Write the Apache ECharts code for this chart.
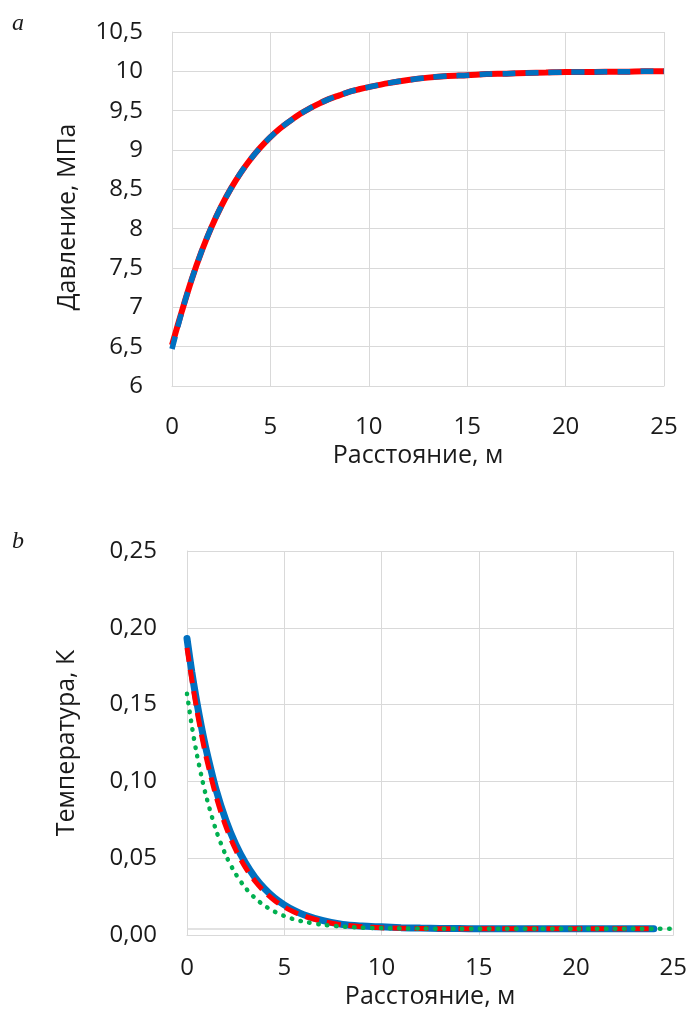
<!DOCTYPE html>
<html lang="ru">
  <head>
    <meta charset="UTF-8" />
    <title>Давление и температура</title>
    <script src="https://cdn.jsdelivr.net/npm/echarts@6/dist/echarts.min.js"></script>
    <style>
      body {
        margin: 0;
        background: #fff;
      }
      #main {
        width: 690px;
        height: 1010px;
      }
    </style>
  </head>
  <body>
    <div id="main"></div>
    <script>
      // панель a — давление
      let distP = [0, 0.5, 1, 1.5, 2, 2.5, 3, 3.5, 4, 4.5, 5, 5.5, 6, 6.5, 7, 7.5, 8, 8.5, 9, 9.5, 10, 11, 12, 13, 14, 15, 16, 17, 18, 19, 20, 21, 22, 23, 24, 25];
      let pressRed = [6.52, 6.95, 7.354, 7.709, 8.017, 8.283, 8.513, 8.713, 8.886, 9.035, 9.164, 9.276, 9.37, 9.457, 9.53, 9.593, 9.65, 9.695, 9.74, 9.772, 9.8, 9.85, 9.89, 9.92, 9.94, 9.95, 9.965, 9.97, 9.98, 9.985, 9.99, 9.99, 9.995, 9.995, 10, 10];
      let pressBlue = [6.47, 6.944, 7.354, 7.709, 8.017, 8.283, 8.513, 8.713, 8.886, 9.035, 9.164, 9.276, 9.37, 9.457, 9.53, 9.593, 9.65, 9.695, 9.74, 9.772, 9.8, 9.85, 9.89, 9.92, 9.94, 9.95, 9.965, 9.97, 9.98, 9.985, 9.99, 9.99, 9.995, 9.995, 10, 10];

      // панель b — температура
      let distT = [0, 0.25, 0.5, 0.75, 1, 1.5, 2, 2.5, 3, 3.5, 4, 4.5, 5, 5.5, 6, 7, 8, 9, 10, 11, 12, 13, 14, 15, 16, 17, 18, 19, 20, 21, 22, 23, 24];
      let distTGreen = [0, 0.25, 0.5, 0.75, 1, 1.5, 2, 2.5, 3, 3.5, 4, 4.5, 5, 5.5, 6, 7, 8, 9, 10, 11, 12, 13, 14, 15, 16, 17, 18, 19, 20, 21, 22, 23, 24, 25];
      let tempBlue = [0.193, 0.171, 0.152, 0.135, 0.12, 0.0944, 0.0746, 0.0591, 0.047, 0.0374, 0.03, 0.0241, 0.0196, 0.016, 0.0132, 0.0093, 0.0068, 0.0058, 0.0053, 0.0048, 0.0045, 0.0043, 0.0042, 0.0041, 0.004, 0.004, 0.004, 0.004, 0.004, 0.004, 0.004, 0.004, 0.004];
      let tempRed = [0.187, 0.166, 0.147, 0.13, 0.115, 0.09, 0.0705, 0.0555, 0.044, 0.035, 0.028, 0.0225, 0.0182, 0.015, 0.0124, 0.0088, 0.0066, 0.0054, 0.0047, 0.0044, 0.0042, 0.0041, 0.004, 0.004, 0.004, 0.004, 0.004, 0.004, 0.004, 0.004, 0.004, 0.004, 0.004];
      let tempGreen = [0.157, 0.136, 0.118, 0.103, 0.0896, 0.068, 0.0518, 0.0398, 0.0308, 0.024, 0.019, 0.0152, 0.0124, 0.0102, 0.0087, 0.0066, 0.0055, 0.0048, 0.0045, 0.0043, 0.0042, 0.0041, 0.004, 0.004, 0.004, 0.004, 0.004, 0.004, 0.004, 0.004, 0.004, 0.004, 0.004, 0.004];
      let floorX = [0, 25];
      let floorT = [0.0039, 0.0039];

      let xTicks = [0, 25, 5];
      let pTicks = [6, 10.5, 0.5];
      let tTicks = [0, 0.25, 0.05];

      function pairs(xs, ys) {
        return xs.map((x, i) => [x, ys[i]]);
      }

      const font = "'Open Sans', 'Noto Sans', sans-serif";
      const txt = "#1a1a1a";
      const gridColor = "#d9d9d9";

      function xAxisOf(idx, margin, gap) {
        return {
          type: "value",
          gridIndex: idx,
          min: xTicks[0],
          max: xTicks[1],
          interval: xTicks[2],
          name: "Расстояние, м",
          nameLocation: "middle",
          nameGap: gap,
          nameTextStyle: { color: txt, fontFamily: font, fontSize: 25 },
          axisLine: { show: true, lineStyle: { color: gridColor, width: 1 } },
          axisTick: { show: false },
          axisLabel: { color: txt, fontFamily: font, fontSize: 24, margin: margin, showMinLabel: true, showMaxLabel: true },
          splitLine: { show: true, lineStyle: { color: gridColor, width: 1 } },
        };
      }

      function curve(xi, data, style) {
        return {
          type: "line",
          xAxisIndex: xi,
          yAxisIndex: xi,
          data: data,
          smooth: 0.3,
          showSymbol: false,
          lineStyle: style,
        };
      }

      let myChart = echarts.init(document.getElementById("main"), null, { renderer: "canvas" });
      let option = {
        animation: false,
        backgroundColor: "#fff",
        graphic: [
          { type: "text", left: 12, top: 12, style: { text: "a", font: "italic 24px 'Liberation Serif', serif", fill: txt } },
          { type: "text", left: 12, top: 530, style: { text: "b", font: "italic 24px 'Liberation Serif', serif", fill: txt } },
        ],
        grid: [
          { left: 172, top: 32, width: 492, height: 354 },
          { left: 187, top: 551, width: 490, height: 384 },
        ],
        xAxis: [xAxisOf(0, 29, 57), xAxisOf(1, 21, 49)],
        yAxis: [
          {
            type: "value",
            gridIndex: 0,
            min: pTicks[0],
            max: pTicks[1],
            interval: pTicks[2],
            name: "Давление, МПа",
            nameLocation: "middle",
            nameGap: 92,
            nameTextStyle: { color: txt, fontFamily: font, fontSize: 25, padding: [0, 16, 0, 0] },
            axisLine: { show: true, lineStyle: { color: gridColor, width: 1 } },
            axisTick: { show: false },
            axisLabel: {
              color: txt,
              fontFamily: font,
              fontSize: 24,
              margin: 29,
              showMinLabel: true,
              showMaxLabel: true,
              formatter: (v) => String(+v.toFixed(1)).replace(".", ","),
            },
            splitLine: { show: true, lineStyle: { color: gridColor, width: 1 } },
          },
          {
            type: "value",
            gridIndex: 1,
            min: tTicks[0],
            max: tTicks[1],
            interval: tTicks[2],
            name: "Температура, К",
            nameLocation: "middle",
            nameGap: 108,
            nameTextStyle: { color: txt, fontFamily: font, fontSize: 25 },
            axisLine: { show: true, lineStyle: { color: gridColor, width: 1 } },
            axisTick: { show: false },
            axisLabel: {
              color: txt,
              fontFamily: font,
              fontSize: 24,
              margin: 30,
              showMinLabel: true,
              showMaxLabel: true,
              formatter: (v) => v.toFixed(2).replace(".", ","),
            },
            splitLine: { show: true, lineStyle: { color: gridColor, width: 1 } },
          },
        ],
        series: [
          curve(0, pairs(distP, pressRed), { color: "#ff0000", width: 6 }),
          curve(0, pairs(distP, pressBlue), { color: "#0070c0", width: 5.5, type: [13, 10] }),
          curve(1, pairs(floorX, floorT), { color: gridColor, width: 1.5 }),
          curve(1, pairs(distT, tempBlue), { color: "#0070c0", width: 7, cap: "round" }),
          curve(1, pairs(distT, tempRed), { color: "#ff0000", width: 5, type: [14, 8] }),
          curve(1, pairs(distTGreen, tempGreen), { color: "#00b050", width: 4.5, type: [0.5, 8.5], cap: "round" }),
        ],
      };
      myChart.setOption(option);
    </script>
  </body>
</html>
